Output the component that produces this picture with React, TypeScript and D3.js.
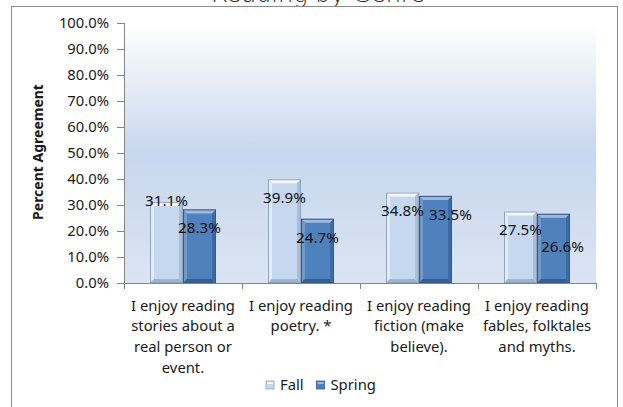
import React from "react";
import * as d3 from "d3";

// ---- data ----
const categories: string[][] = [
  ["I enjoy reading", "stories about a", "real person or", "event."],
  ["I enjoy reading", "poetry. *"],
  ["I enjoy reading", "fiction (make", "believe)."],
  ["I enjoy reading", "fables, folktales", "and myths."],
];
const seriesNames = ["Fall", "Spring"];
const fallValues = [0.311, 0.399, 0.348, 0.275];
const springValues = [0.283, 0.247, 0.335, 0.266];
const yTicks = [0, 0.1, 0.2, 0.3, 0.4, 0.5, 0.6, 0.7, 0.8, 0.9, 1.0];
const chartTitle = "Reading by Genre";
const yAxisTitle = "Percent Agreement";

// hand-placed label nudges [series][category] -> [dx, dy]
const labelNudges: [number, number][][] = [
  [[0, -20.5], [0, 0], [0, 0], [0, 0]],
  [[0, 0], [0, 0], [15, 0], [9, 14.5]],
];

// ---- layout ----
const W = 623;
const H = 407;
const plot = { left: 124, right: 596, top: 23, bottom: 283 };
const barW = 33;
const FONT = "'Noto Sans', 'Open Sans', sans-serif";

const palettes = [
  { main: "#c5d8f0", left: "#e2ecf8", right: "#a9bfd9", top: "#f4f8fd", bottom: "#9fb4cf", edge: "#8fa4c0" },
  { main: "#4f81bd", left: "#7099cb", right: "#3d6aa1", top: "#9dbbe2", bottom: "#375f91", edge: "#36598a" },
];

function BevelBar({ x, y, w, h, p }: { x: number; y: number; w: number; h: number; p: typeof palettes[0] }) {
  const b = Math.min(4, h / 2);
  return (
    <g>
      <rect x={x} y={y} width={w} height={h} fill={p.main} />
      {/* top bevel */}
      <polygon points={`${x},${y} ${x + w},${y} ${x + w - b},${y + b} ${x + b},${y + b}`} fill={p.top} />
      {/* left bevel */}
      <polygon points={`${x},${y} ${x + b},${y + b} ${x + b},${y + h - b} ${x},${y + h}`} fill={p.left} />
      {/* right bevel */}
      <polygon points={`${x + w},${y} ${x + w},${y + h} ${x + w - b},${y + h - b} ${x + w - b},${y + b}`} fill={p.right} />
      {/* bottom bevel */}
      <polygon points={`${x},${y + h} ${x + b},${y + h - b} ${x + w - b},${y + h - b} ${x + w},${y + h}`} fill={p.bottom} />
      <rect x={x + 0.5} y={y + 0.5} width={w - 1} height={h - 1} fill="none" stroke={p.edge} strokeWidth={1} />
    </g>
  );
}

export default function App() {
  const x = d3
    .scaleBand<number>()
    .domain(d3.range(categories.length))
    .range([plot.left, plot.right])
    .paddingInner(0)
    .paddingOuter(0);
  const y = d3.scaleLinear().domain([0, 1]).range([plot.bottom, plot.top]);
  const fmt = d3.format(".1%");
  const series = [fallValues, springValues];
  const bw = x.bandwidth();
  const boundaries = d3.range(categories.length + 1).map((i) => plot.left + i * bw);

  return (
    <svg
      width={W}
      height={H}
      viewBox={`0 0 ${W} ${H}`}
      style={{ position: "absolute", left: 0, top: 0, display: "block", background: "#fff" }}
    >
      <defs>
        <linearGradient id="plotBg" x1="0" y1="0" x2="0" y2="1">
          <stop offset="0" stopColor="#ffffff" />
          <stop offset="0.5" stopColor="#c8d7ee" />
          <stop offset="1" stopColor="#dae4f3" />
        </linearGradient>
      </defs>

      {/* title, mostly above the visible area */}
      <text
        x={318}
        y={1.5}
        textAnchor="middle"
        fontFamily="'DejaVu Sans', sans-serif"
        fontWeight={300}
        fontSize={24}
        fill="#222"
      >
        {chartTitle}
      </text>

      {/* chart frame */}
      <rect x={11.5} y={6.5} width={606} height={410} fill="#fff" stroke="#8a8a8a" strokeWidth={1} />

      {/* plot area */}
      <rect
        x={plot.left}
        y={plot.top}
        width={plot.right - plot.left}
        height={plot.bottom - plot.top}
        fill="url(#plotBg)"
      />

      {/* bars */}
      {series.map((vals, s) =>
        vals.map((v, i) => {
          const cx = (x(i) as number) + bw / 2;
          const bx = cx - barW + s * barW;
          return (
            <BevelBar key={`b${s}-${i}`} x={bx} y={y(v)} w={barW} h={plot.bottom - y(v)} p={palettes[s]} />
          );
        })
      )}

      {/* y axis */}
      <line x1={plot.left + 0.5} x2={plot.left + 0.5} y1={plot.top} y2={plot.bottom} stroke="#868686" />
      {yTicks.map((t) => (
        <g key={`yt${t}`}>
          <line x1={plot.left - 7} x2={plot.left} y1={Math.round(y(t)) + 0.5} y2={Math.round(y(t)) + 0.5} stroke="#868686" />
          <text
            x={109}
            y={y(t)}
            dy="0.36em"
            textAnchor="end"
            fontFamily={FONT}
            fontSize={14.8}
            fill="#1a1a1a"
          >
            {fmt(t)}
          </text>
        </g>
      ))}

      {/* x axis */}
      <line x1={plot.left} x2={plot.right} y1={plot.bottom + 0.5} y2={plot.bottom + 0.5} stroke="#868686" />
      {boundaries.map((bx, i) => (
        <line
          key={`xt${i}`}
          x1={Math.round(bx) + 0.5}
          x2={Math.round(bx) + 0.5}
          y1={plot.bottom}
          y2={plot.bottom + 6}
          stroke="#868686"
        />
      ))}

      {/* category labels */}
      {categories.map((lines, i) => (
        <text
          key={`cl${i}`}
          textAnchor="middle"
          fontFamily={FONT}
          fontSize={14.8}
          fill="#1a1a1a"
        >
          {lines.map((ln, j) => (
            <tspan key={j} x={(x(i) as number) + bw / 2} y={310.5 + j * 20.7}>
              {ln}
            </tspan>
          ))}
        </text>
      ))}

      {/* data labels */}
      {series.map((vals, s) =>
        vals.map((v, i) => {
          const cx = (x(i) as number) + bw / 2 - barW / 2 + s * barW;
          const [dx, dy] = labelNudges[s][i];
          return (
            <text
              key={`dl${s}-${i}`}
              x={cx + dx}
              y={y(v) + 18.5 + dy}
              dy="0.36em"
              textAnchor="middle"
              fontFamily={FONT}
              fontSize={15.2}
              fill="#111"
            >
              {fmt(v)}
            </text>
          );
        })
      )}

      {/* y axis title */}
      <text
        transform={`translate(38,152) rotate(-90)`}
        dy="0.36em"
        textAnchor="middle"
        fontFamily={FONT}
        fontWeight={700}
        fontSize={14}
        fill="#1a1a1a"
      >
        {yAxisTitle}
      </text>

      {/* legend */}
      {seriesNames.map((name, s) => {
        const mx = s === 0 ? 266 : 316.5;
        const p = palettes[s];
        return (
          <g key={`lg${s}`}>
            <rect x={mx} y={381} width={8} height={8} fill={p.main} stroke={p.edge} strokeWidth={0.8} />
            <rect x={mx + 1} y={382} width={6} height={2} fill={p.top} />
            <text x={mx + 14} y={385} dy="0.36em" fontFamily={FONT} fontSize={14.8} fill="#1a1a1a">
              {name}
            </text>
          </g>
        );
      })}
    </svg>
  );
}
